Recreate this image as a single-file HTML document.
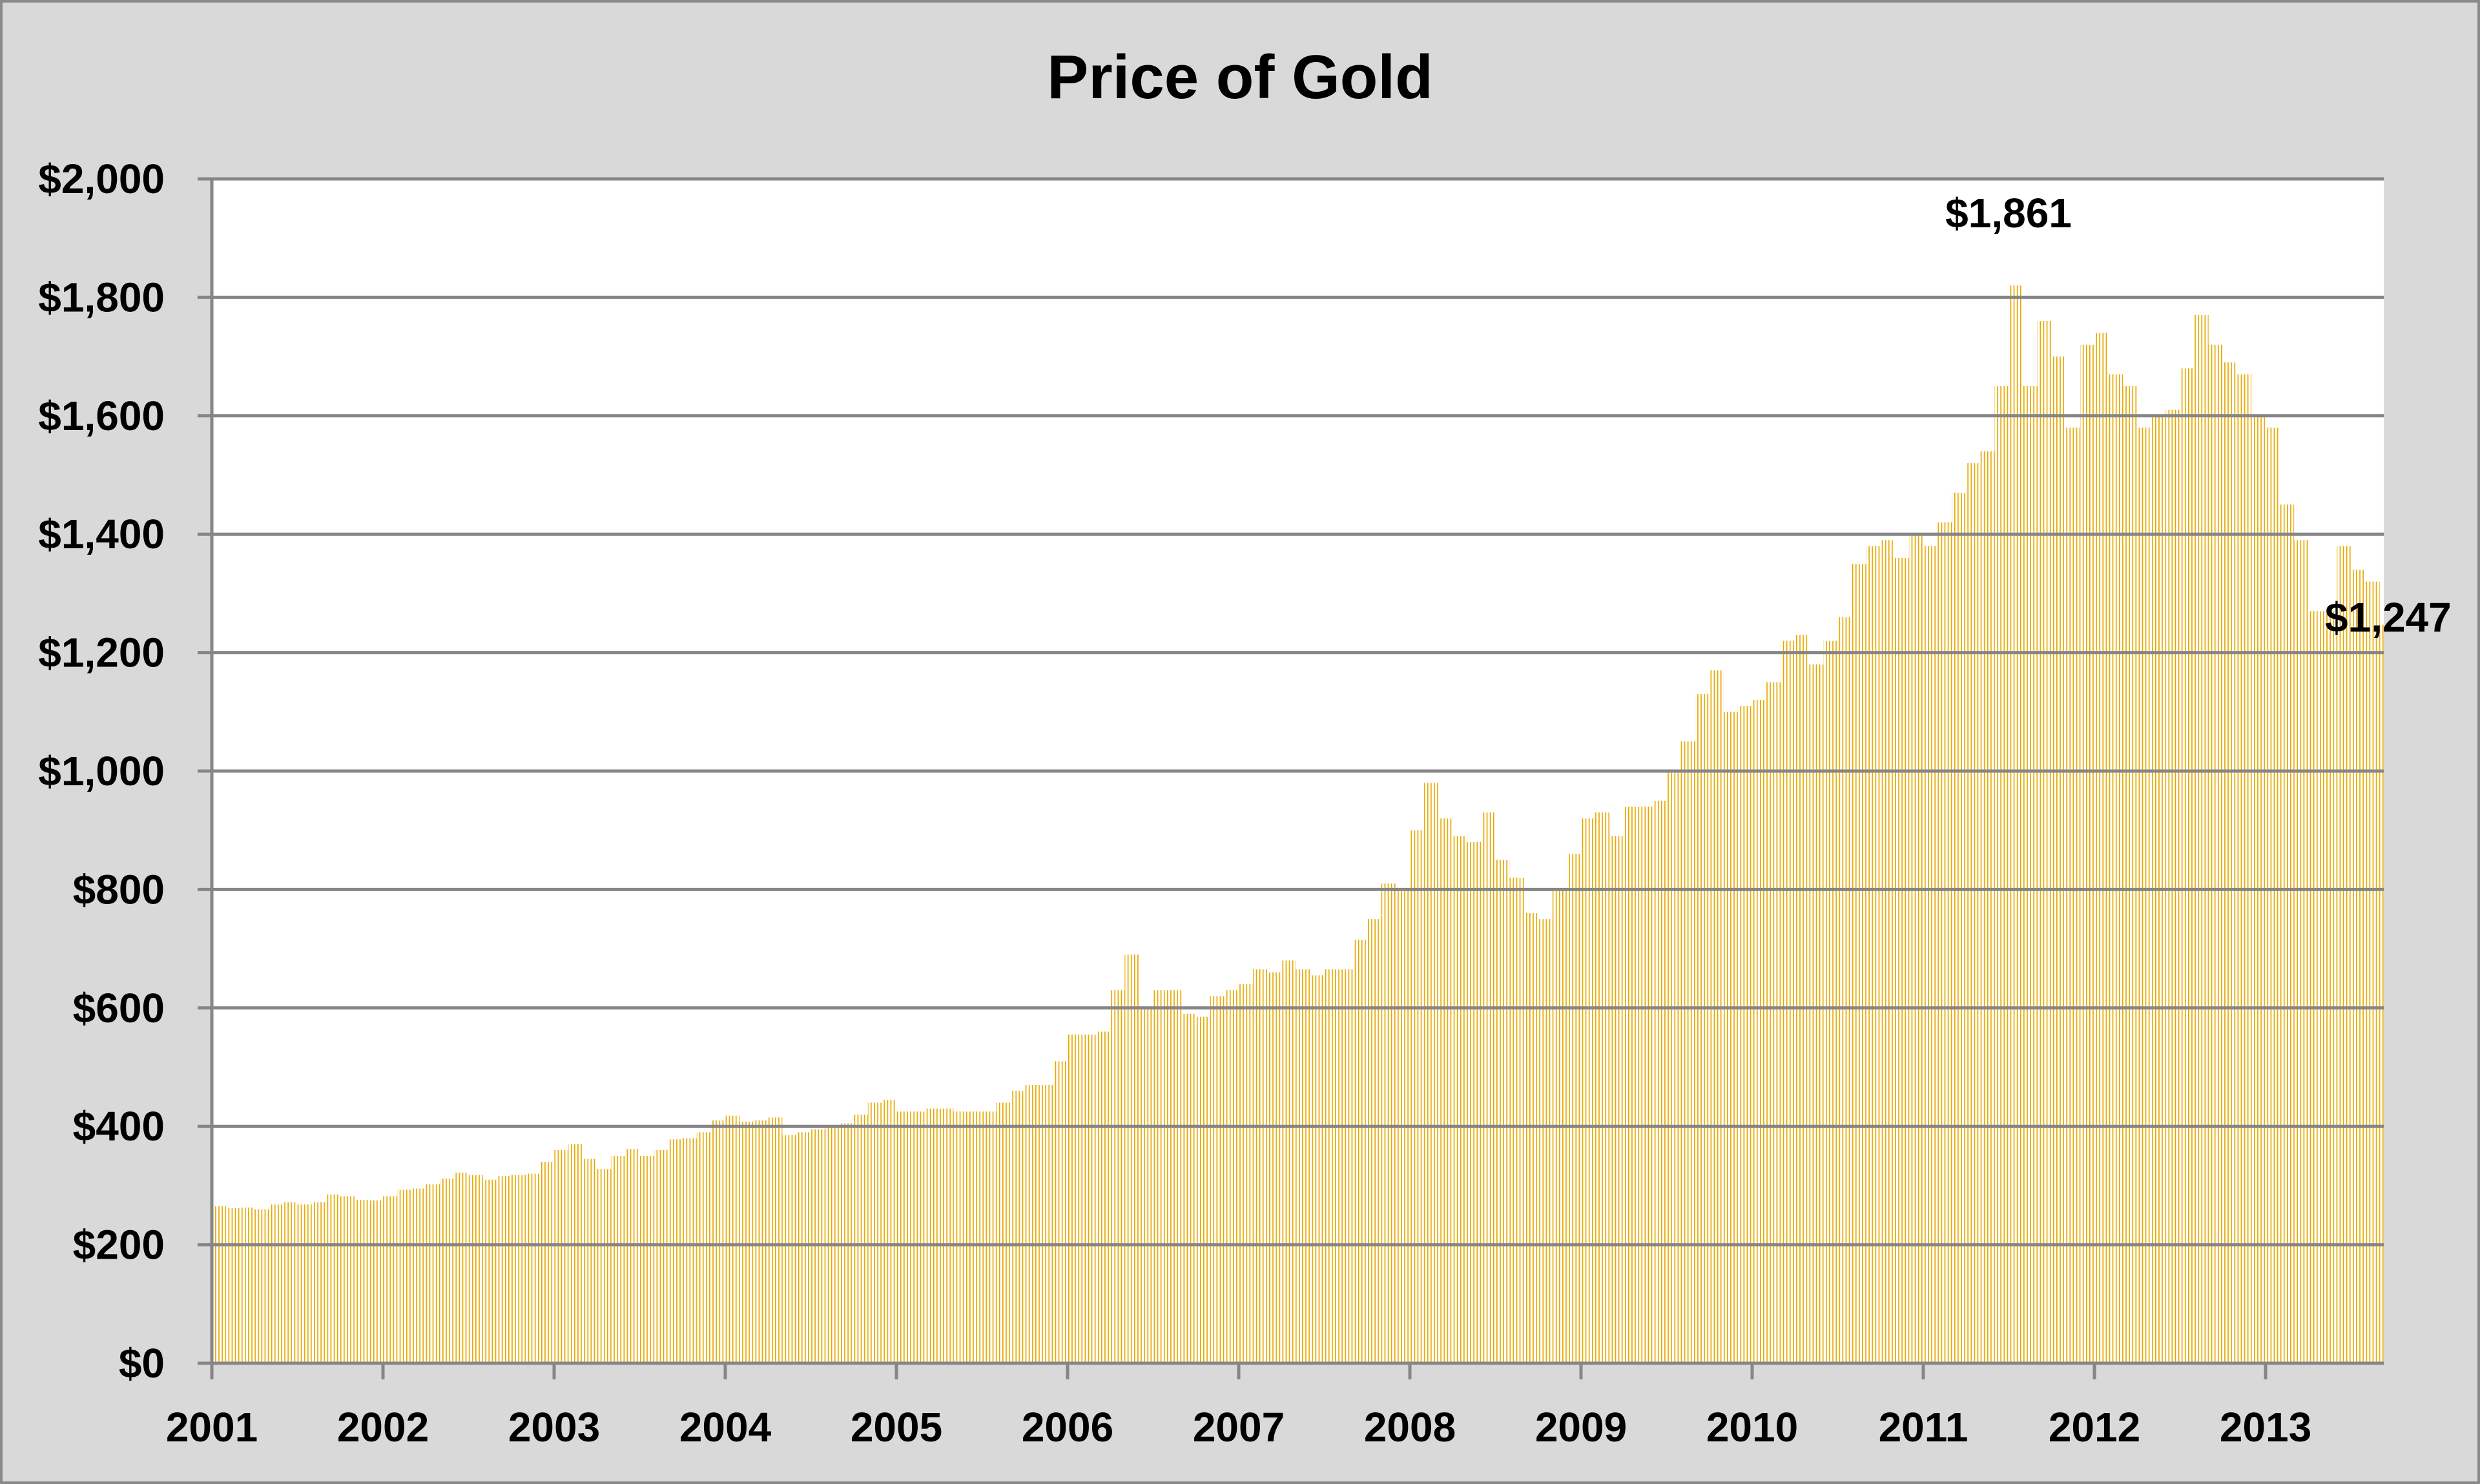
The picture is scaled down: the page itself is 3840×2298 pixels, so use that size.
<!DOCTYPE html>
<html><head><meta charset="utf-8"><style>
html,body{margin:0;padding:0;background:#d9d9d9;}
svg{display:block;}
text{font-family:"Liberation Sans",sans-serif;font-weight:bold;fill:#000;}
</style></head><body>
<svg id="chart" width="3840" height="2298" viewBox="0 0 3840 2298" xmlns="http://www.w3.org/2000/svg">
<defs>
<pattern id="stripes" patternUnits="userSpaceOnUse" x="328" y="0" width="5.1" height="10">
<rect x="0" y="0" width="1.7" height="10" fill="#e6a800"/>
</pattern>
</defs>
<rect x="2" y="2" width="3836" height="2294" fill="#d9d9d9" stroke="#8a8a8a" stroke-width="4"/>
<text x="1920" y="152" font-size="96" text-anchor="middle">Price of Gold</text>
<rect x="328" y="277" width="3363" height="1834" fill="#ffffff"/>
<g id="bars"></g>
<g id="grid"></g>
<g id="yaxis"></g>
<g id="xaxis"></g>
<text x="3110" y="352" font-size="64" text-anchor="middle">$1,861</text>
<text x="3600" y="978" font-size="64">$1,247</text>
</svg>
<script>
const years = [2001,2002,2003,2004,2005,2006,2007,2008,2009,2010,2011,2012,2013];
const yTicks = [0,200,400,600,800,1000,1200,1400,1600,1800,2000];
const prices2001_2005 = [265,262,263,260,268,272,268,272,285,282,276,275,
 282,293,295,302,312,322,318,310,316,318,320,340,
 360,370,345,328,350,362,350,360,378,380,390,410,
 418,408,410,415,385,390,395,400,405,420,440,445,
 425,425,430,430,425,425,425,440,460,470,470,510];
const prices2006_2010 = [555,555,560,630,690,600,630,630,590,585,620,630,
 640,665,660,680,665,655,665,665,715,750,810,800,
 900,980,920,890,880,930,850,820,760,750,800,860,
 920,930,890,940,940,950,1000,1050,1130,1170,1100,1110,
 1120,1150,1220,1230,1180,1220,1260,1350,1380,1390,1360,1400];
const prices2011_2013 = [1380,1420,1470,1520,1540,1650,1820,1650,1760,1700,1580,1720,
 1740,1670,1650,1580,1600,1610,1680,1770,1720,1690,1670,1600,
 1580,1450,1390,1270,1270,1380,1340,1320,1247];
const prices = prices2001_2005.concat(prices2006_2010, prices2011_2013);

const L=328,R=3691,T=277,B=2111, yearW=265;
const xScale = m => L + m*yearW/12;
const yScale = v => B - v/2000*(B-T);
const NS="http://www.w3.org/2000/svg";
const bars=document.getElementById('bars');
prices.forEach((v,i)=>{
  const r=document.createElementNS(NS,'rect');
  const x0=xScale(i), x1=Math.min(xScale(i+1),R);
  r.setAttribute('x',x0); r.setAttribute('width',x1-x0);
  r.setAttribute('y',yScale(v)); r.setAttribute('height',B-yScale(v));
  r.setAttribute('fill','url(#stripes)');
  
  
  bars.appendChild(r);
});
const grid=document.getElementById('grid'), ya=document.getElementById('yaxis');
yTicks.forEach(t=>{
  const y=yScale(t);
  const l=document.createElementNS(NS,'line');
  l.setAttribute('x1',L-22); l.setAttribute('x2',R); l.setAttribute('y1',y); l.setAttribute('y2',y);
  l.setAttribute('stroke','#868686'); l.setAttribute('stroke-width','5');
  
  
  grid.appendChild(l);
  const tx=document.createElementNS(NS,'text');
  tx.setAttribute('x',255); tx.setAttribute('y',y+22); tx.setAttribute('font-size','64');
  tx.setAttribute('text-anchor','end');
  tx.textContent='$'+t.toLocaleString('en-US');
  
  
  ya.appendChild(tx);
});
const yl=document.createElementNS(NS,'line');
yl.setAttribute('x1',L); yl.setAttribute('x2',L); yl.setAttribute('y1',T); yl.setAttribute('y2',B);
yl.setAttribute('stroke','#868686'); yl.setAttribute('stroke-width','5');


ya.appendChild(yl);
const xa=document.getElementById('xaxis');
years.forEach((yr,i)=>{
  const x=xScale(i*12);
  const tk=document.createElementNS(NS,'line');
  tk.setAttribute('x1',x); tk.setAttribute('x2',x); tk.setAttribute('y1',B); tk.setAttribute('y2',B+25);
  tk.setAttribute('stroke','#868686'); tk.setAttribute('stroke-width','5');
  
  
  xa.appendChild(tk);
  const tx=document.createElementNS(NS,'text');
  tx.setAttribute('x',x); tx.setAttribute('y',2232); tx.setAttribute('font-size','64');
  tx.setAttribute('text-anchor','middle');
  tx.textContent=yr;
  
  
  xa.appendChild(tx);
});
</script>
</body></html>
